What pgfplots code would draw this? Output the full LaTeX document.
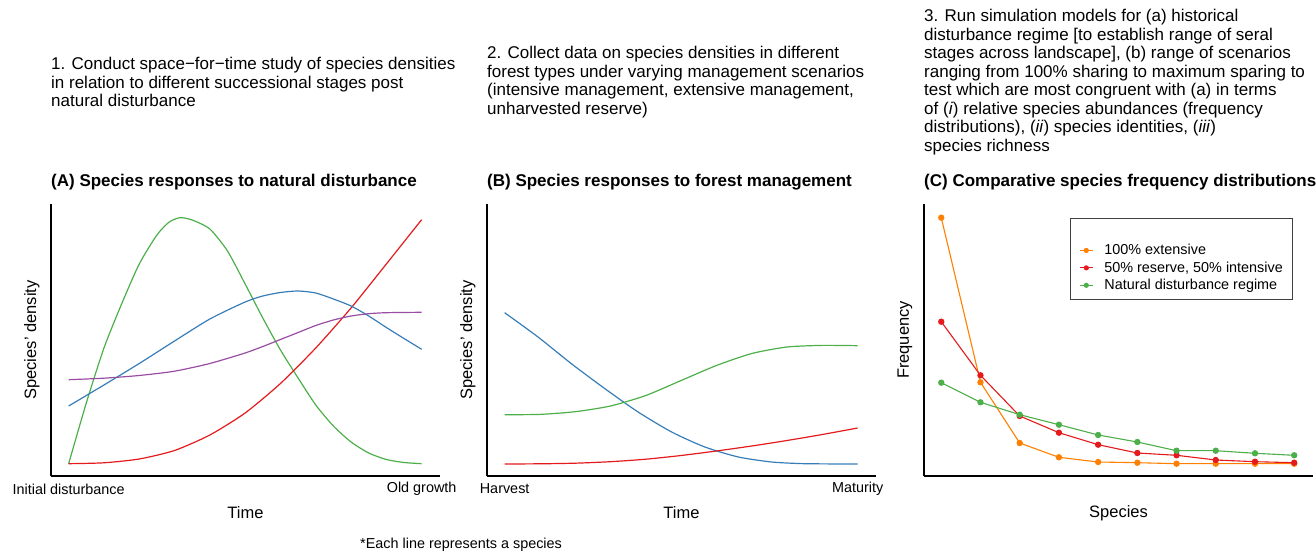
\documentclass[border=0pt]{standalone}
\usepackage{fontspec}
\setmainfont{Liberation Sans}
\usepackage{pgfplots}
\pgfplotsset{compat=1.18}
\definecolor{cgreen}{HTML}{4DAF4A}
\definecolor{cred}{HTML}{E41A1C}
\definecolor{cblue}{HTML}{377EB8}
\definecolor{cpurple}{HTML}{984EA3}
\definecolor{corange}{HTML}{FF7F00}
\pgfplotsset{
  panel/.style={
    scale only axis, width=389pt, height=272pt,
    axis lines=left, axis line style={line width=1.7pt,-},
    ymin=0, ymax=272, ytick=\empty,
    major tick length=0pt,
    clip=false,
    tick label style={font=\fontsize{14.4}{16}\selectfont},
    xticklabel style={anchor=center, yshift=-13pt},
    label style={font=\fontsize{16.5}{19}\selectfont},
    xlabel style={at={(axis description cs:0.5,-0.136)}, anchor=center},
    ylabel style={at={(axis description cs:-0.049,0.5)}, anchor=center},
    title style={font=\bfseries\fontsize{17}{20}\selectfont, at={(axis description cs:0,1)}, anchor=base west, yshift=11pt, inner sep=0pt},
  },
  curve/.style={line width=1.2pt, smooth, tension=0.4, no marks},
}
\begin{document}
\begin{tikzpicture}[x=1pt,y=1pt]
\useasboundingbox (0,0) rectangle (1316,553);
\node[anchor=west, align=left, inner sep=0pt, font=\fontsize{17}{18.5}\selectfont] at (51,471)
 {1. Conduct space−for−time study of species densities\\in relation to different successional stages post\\natural disturbance};
\node[anchor=west, align=left, inner sep=0pt, font=\fontsize{17}{18.5}\selectfont] at (487,471)
 {2. Collect data on species densities in different\\forest types under varying management scenarios\\(intensive management, extensive management,\\unharvested reserve)};
\node[anchor=west, align=left, inner sep=0pt, font=\fontsize{17}{18.5}\selectfont] at (924,471)
 {3. Run simulation models for (a) historical\\disturbance regime [to establish range of seral\\stages across landscape], (b) range of scenarios\\ranging from 100\% sharing to maximum sparing to\\test which are most congruent with (a) in terms\\of (\textit{i}) relative species abundances (frequency\\distributions), (\textit{ii}) species identities, (\textit{iii})\\species richness};
\node[anchor=west, inner sep=0pt, font=\fontsize{14.4}{16}\selectfont] at (360,8) {*Each line represents a species};

% Panel A
\begin{axis}[panel, at={(51pt,77pt)}, anchor=south west,
  xmin=-0.05, xmax=1.052, xtick={0,1}, xticklabels={Initial disturbance,Old growth},
  xlabel={Time}, ylabel={Species' density},
  title={(A) Species responses to natural disturbance}]
\addplot[curve, cgreen] coordinates {(0,12.3) (0.05,73) (0.1,128) (0.15,172) (0.2,212) (0.25,241) (0.285,254) (0.316,258.3) (0.35,256) (0.4,247) (0.45,225) (0.5,192) (0.55,158) (0.6,126) (0.65,98) (0.7,71) (0.75,50) (0.8,34) (0.85,23) (0.9,16.5) (0.95,13.5) (1,12.3)};
\addplot[curve, cred] coordinates {(0,12.3) (0.1,13.2) (0.2,17) (0.3,25.5) (0.4,41) (0.5,63) (0.6,92.5) (0.7,128) (0.8,168) (0.9,212) (1,256.3)};
\addplot[curve, cblue] coordinates {(0,70) (0.1,91) (0.2,112.5) (0.3,135) (0.4,157) (0.5,174) (0.55,180) (0.6,183.5) (0.65,185) (0.7,183) (0.75,177) (0.8,170) (0.85,160) (0.9,148.5) (0.95,137.5) (1,126.7)};
\addplot[curve, cpurple] coordinates {(0,96.3) (0.1,97.8) (0.2,100.5) (0.3,104.8) (0.4,112.5) (0.5,123) (0.55,129.5) (0.6,136.5) (0.65,143.5) (0.7,150.5) (0.75,156) (0.8,160) (0.85,162.3) (0.9,163.3) (1,163.7)};
\end{axis}

% Panel B
\begin{axis}[panel, at={(487pt,77pt)}, anchor=south west,
  xmin=-0.05, xmax=1.052, xtick={0,1}, xticklabels={Harvest,Maturity},
  xlabel={Time}, ylabel={Species' density},
  title={(B) Species responses to forest management}]
\addplot[curve, cblue] coordinates {(0,163.3) (0.0945,139) (0.189,112.3) (0.284,87.3) (0.378,64) (0.473,44) (0.567,29) (0.662,19) (0.756,14) (0.85,12.3) (1,12)};
\addplot[curve, cgreen] coordinates {(0,61.3) (0.1,61.6) (0.2,64.3) (0.3,70) (0.4,80.5) (0.5,95.5) (0.6,110.5) (0.7,122.5) (0.8,129) (0.9,130.6) (1,130.3)};
\addplot[curve, cred] coordinates {(0,12) (0.1,12.2) (0.2,12.8) (0.3,14.3) (0.4,16.8) (0.5,20.5) (0.6,25) (0.7,30) (0.8,35.5) (0.9,41.5) (1,48)};
\end{axis}

% Panel C
\begin{axis}[panel, at={(924pt,77pt)}, anchor=south west,
  xmin=-0.44, xmax=9.48, xtick=\empty,
  xlabel={Species}, ylabel={Frequency},
  title={(C) Comparative species frequency distributions},
  legend style={at={(axis description cs:0.375,0.949)}, anchor=north west,
    draw=black!75, line width=0.8pt, font=\fontsize{14.4}{16}\selectfont,
    inner xsep=9pt, inner ysep=6pt, row sep=1.5pt,
    nodes={inner xsep=1pt},
    /tikz/every odd column/.append style={column sep=10pt}},
  legend cell align=left,
  legend image code/.code={\draw[mark repeat=2, mark phase=2, mark size=2pt] plot coordinates {(0pt,0pt) (6.5pt,0pt) (13pt,0pt)};},
  every axis plot/.append style={line width=1.1pt, mark=*, mark size=2.6pt}]
\addlegendimage{empty legend}
\addlegendentry{\strut}
\addplot[corange, mark options={fill=corange}] coordinates {(0,258.3) (1,93.7) (2,33) (3,18.7) (4,14) (5,13.3) (6,12.3) (7,12.3) (8,12.3) (9,12.3)};
\addlegendentry{100\% extensive}
\addplot[cred, mark options={fill=cred}] coordinates {(0,154.3) (1,100.7) (2,60) (3,43.3) (4,31.3) (5,23) (6,20.7) (7,16) (8,14.3) (9,13.3)};
\addlegendentry{50\% reserve, 50\% intensive}
\addplot[cgreen, mark options={fill=cgreen}] coordinates {(0,93.3) (1,73.7) (2,61.3) (3,51.3) (4,41) (5,34) (6,25.3) (7,25.3) (8,22.7) (9,20.7)};
\addlegendentry{Natural disturbance regime}
\end{axis}
\end{tikzpicture}
\end{document}
